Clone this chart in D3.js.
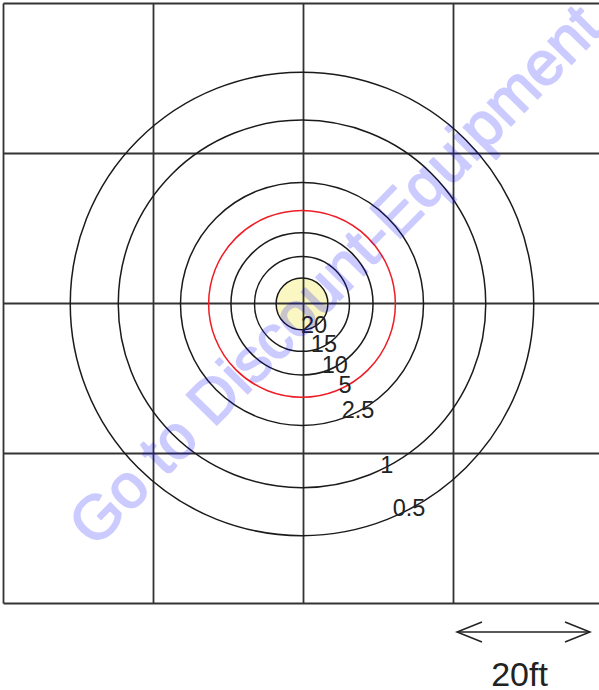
<!DOCTYPE html>
<html>
<head>
<meta charset="utf-8">
<script src="https://cdn.jsdelivr.net/npm/d3@7"></script>
<style>
body { margin: 0; background: #fff; }
svg { display: block; font-family: "Liberation Sans", Arial, sans-serif; }
</style>
</head>
<body>
<div id="tablier"></div>
<script>
// niveaux affichés sur les cercles, et rayon de chaque cercle en pieds
var niveaux = ["0.5", "1", "2.5", "5", "10", "15", "20"];
var rayonsPieds = [30.9, 24.5, 16.2, 12.45, 9.47, 6.33, 3.45];
// lignes de la grille (pieds)
var grillePieds = [0, 20, 40, 60, 80];
var centrePieds = [39.8, 40.05];
var echelleTexte = "20ft";
var filigrane = "Go to Discount-Equipment";

var largeur = 599, hauteur = 690;

var svg = d3.select("#tablier").append("svg")
    .attr("width", largeur)
    .attr("height", hauteur);

var x = d3.scaleLinear().domain([0, 80]).range([3.5, 603.5]);
var y = d3.scaleLinear().domain([0, 80]).range([3.5, 603.5]);
var r = d3.scaleLinear().domain([0, 20]).range([0, 150]);

var cx = x(centrePieds[0]), cy = y(centrePieds[1]);

// disque jaune du plus petit cercle
svg.append("circle")
    .attr("cx", cx)
    .attr("cy", cy)
    .attr("r", r(rayonsPieds[rayonsPieds.length - 1]))
    .attr("fill", "#fbf7c2");

// grille
svg.selectAll("line.v").data(grillePieds).enter().append("line")
    .attr("x1", function(d) { return x(d); })
    .attr("x2", function(d) { return x(d); })
    .attr("y1", y(0))
    .attr("y2", y(80))
    .attr("stroke", "#333")
    .attr("stroke-width", 1.8);
svg.selectAll("line.h").data(grillePieds).enter().append("line")
    .attr("y1", function(d) { return y(d); })
    .attr("y2", function(d) { return y(d); })
    .attr("x1", x(0))
    .attr("x2", x(80))
    .attr("stroke", "#333")
    .attr("stroke-width", 1.8);

// cercles
svg.selectAll("circle.niveau").data(rayonsPieds).enter().append("circle")
    .attr("class", "niveau")
    .attr("cx", cx)
    .attr("cy", cy)
    .attr("r", function(d) { return r(d); })
    .attr("fill", "none")
    .attr("stroke", function(d, i) { return niveaux[i] == "5" ? "#ee1c25" : "#1a1a1a"; })
    .attr("stroke-width", 1.5);

// étiquettes posées sur chaque cercle
var angle = 62.5 * Math.PI / 180;
var taille = 23.5;
svg.selectAll("text.niveau").data(rayonsPieds).enter().append("text")
    .attr("class", "niveau")
    .attr("x", function(d) { return cx + Math.cos(angle) * r(d); })
    .attr("y", function(d) { return cy + Math.sin(angle) * r(d) + taille * 0.36 - 2; })
    .attr("text-anchor", "middle")
    .attr("font-size", taille)
    .attr("fill", "#222")
    .text(function(d, i) { return niveaux[i]; });

// flèche d'échelle
var fy = 632, fx1 = 457, fx2 = 590;
var fleche = svg.append("g")
    .attr("fill", "none")
    .attr("stroke", "#222")
    .attr("stroke-width", 1.5);
fleche.append("line").attr("x1", fx1).attr("x2", fx2).attr("y1", fy).attr("y2", fy);
fleche.append("path").attr("d", "M" + (fx1 + 25) + "," + (fy - 10) + " L" + fx1 + "," + fy + " L" + (fx1 + 25) + "," + (fy + 10));
fleche.append("path").attr("d", "M" + (fx2 - 25) + "," + (fy - 10) + " L" + fx2 + "," + fy + " L" + (fx2 - 25) + "," + (fy + 10));

svg.append("text")
    .attr("x", (fx1 + fx2) / 2 - 4)
    .attr("y", 686)
    .attr("text-anchor", "middle")
    .attr("font-size", 34)
    .attr("fill", "#222")
    .text(echelleTexte);

// filigrane
svg.append("g")
    .attr("opacity", 0.2)
    .append("text")
    .attr("transform", "translate(95,549) rotate(-45.5)")
    .attr("font-size", 62)
    .attr("fill", "#0000ff")
    .attr("stroke", "#0000ff")
    .attr("stroke-width", 1.8)
    .attr("stroke-linejoin", "round")
    .text(filigrane);
</script>
</body>
</html>
